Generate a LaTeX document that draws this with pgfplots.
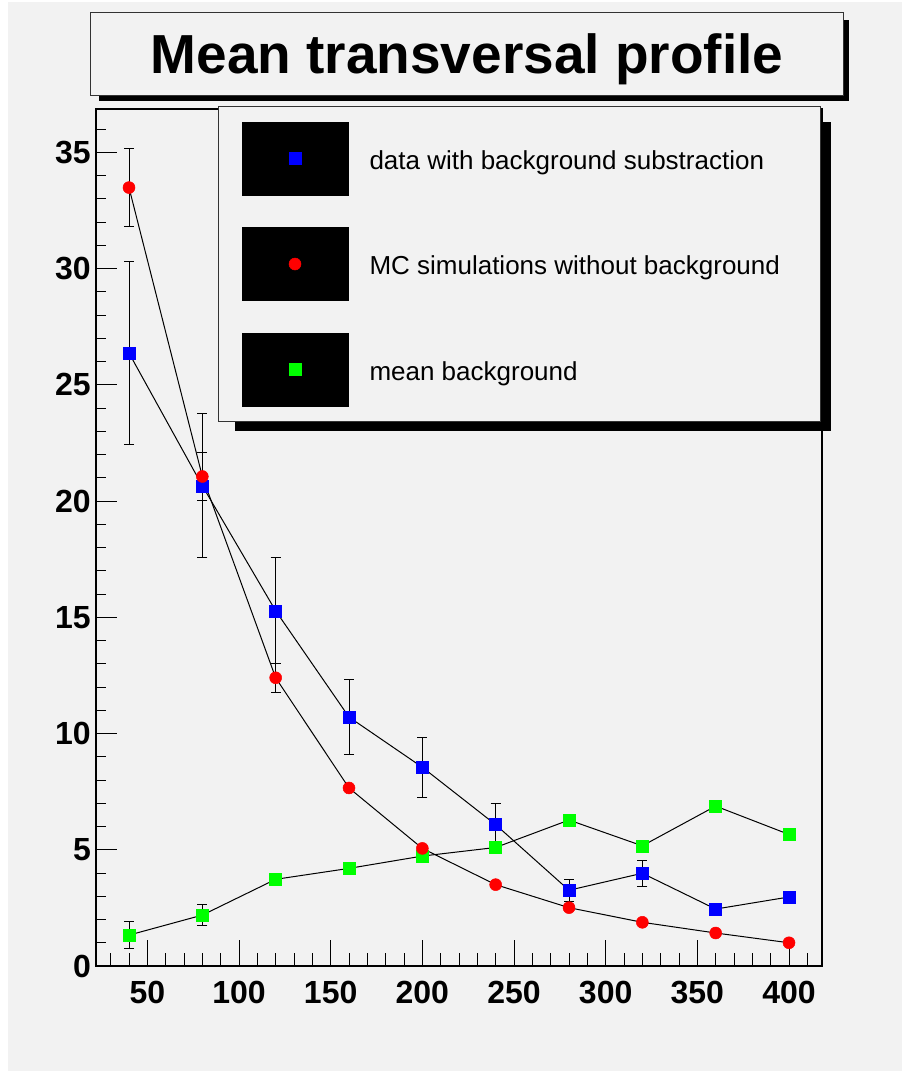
\documentclass[border=0pt]{standalone}
\usepackage{fontspec}
\setmainfont{Liberation Sans}
\usepackage{pgfplots}
\pgfplotsset{compat=1.18}
\definecolor{bg}{HTML}{F2F2F2}
\definecolor{rootblue}{RGB}{0,0,255}
\definecolor{rootred}{RGB}{255,0,0}
\definecolor{rootgreen}{RGB}{0,255,0}
\pgfplotsset{
  common/.style={
    at={(96pt,-966pt)}, anchor=south west, scale only axis,
    width=726pt, height=857pt,
    xmin=22, xmax=418, ymin=0, ymax=36.87,
    axis line style={line width=1.6pt, black},
    tick align=inside,
    tick pos=left,
    major tick style={line width=1pt, black},
    minor tick style={line width=1pt, black},
    tick label style={font=\fontsize{32}{32}\selectfont\bfseries},
    /pgf/number format/assume math mode=true,
    /pgf/number format/1000 sep={},
    xticklabel style={inner sep=0pt, anchor=north, yshift=-15pt},
    yticklabel style={inner sep=0pt, anchor=east, xshift=-5pt},
  },
  bluestyle/.style={black, line width=1pt, mark=square*, mark size=6pt,
    mark options={draw=rootblue, fill=rootblue, line width=0.5pt, solid}},
  redstyle/.style={black, line width=1pt, mark=*, mark size=6pt,
    mark options={draw=rootred, fill=rootred, line width=0.5pt, solid}},
  greenstyle/.style={black, line width=1pt, mark=square*, mark size=6pt,
    mark options={draw=rootgreen, fill=rootgreen, line width=0.5pt, solid}},
  errstyle/.style={forget plot, black, draw opacity=0, mark=*, mark size=0pt,
    error bars/.cd, y dir=both, y explicit,
    error bar style={draw=black, draw opacity=1, line width=1pt, solid},
    error mark options={rotate=90, draw=black, draw opacity=1, line width=1pt, mark size=5pt, solid}},
}
\begin{document}
\begin{tikzpicture}
\useasboundingbox (0pt,0pt) rectangle (902pt,-1071pt);
\fill[white] (0pt,0pt) rectangle (902pt,-1071pt);
\fill[bg] (8pt,-2pt) rectangle (902pt,-1071pt);
% title box
\fill[black] (99pt,-20pt) rectangle (848.5pt,-100.5pt);
\filldraw[fill=bg, draw=black!80, line width=1pt] (90pt,-12pt) rectangle (843.3pt,-95.7pt);
\node[anchor=base, inner sep=0pt, font=\fontsize{55}{55}\selectfont\bfseries] at (467pt,-73pt) {Mean transversal profile};
% legend shadow
\fill[black] (234.7pt,-121.7pt) rectangle (830.7pt,-430.5pt);

% axis with y ticks
\begin{axis}[common,
  ytick={0,5,...,35}, minor ytick={1,...,36}, xtick=\empty,
  major tick length=21pt, minor tick length=10pt]
\end{axis}

% axis with x ticks, data and legend
\begin{axis}[common,
  xtick={50,100,...,400}, minor xtick={30,40,...,410}, ytick=\empty,
  major tick length=26pt, minor tick length=13pt,
  legend style={
    at={(0.16804,1.0035)}, anchor=north west,
    draw=black!80, line width=1pt, fill=bg,
    inner xsep=23pt, inner ysep=15pt,
    row sep=31.5pt, column sep=21pt,
    nodes={inner sep=0pt},
    font=\fontsize{26}{26}\selectfont,
  },
  legend cell align=left,
  legend image code/.code={
    \fill[black] (0pt,-34.5pt) rectangle (106pt,38.5pt);
    \draw[#1, mark repeat=2, mark phase=2] plot coordinates {(0pt,2pt) (53pt,2pt) (106pt,2pt)};
  },
]
% error bars (drawn first, under the markers)
\addplot[errstyle] coordinates {
  (40,26.37) +- (0,3.92)
  (80,20.66) +- (0,3.10)
  (120,15.28) +- (0,2.28)
  (160,10.71) +- (0,1.60)
  (200,8.55) +- (0,1.28)
  (240,6.08) +- (0,0.90)
  (280,3.26) +- (0,0.48)
  (320,3.99) +- (0,0.57)
};
\addplot[errstyle] coordinates {
  (40,33.49) +- (0,1.67)
  (80,21.06) +- (0,1.05)
  (120,12.40) +- (0,0.62)
};
\addplot[errstyle] coordinates {
  (40,1.33) +- (0,0.57)
  (80,2.19) +- (0,0.46)
};
% data with background substraction
\addplot[bluestyle, forget plot] coordinates {
  (40,26.37) (80,20.66) (120,15.28) (160,10.71) (200,8.55)
  (240,6.08) (280,3.26) (320,3.99) (360,2.45) (400,2.97)
};
% mean background
\addplot[greenstyle, forget plot] coordinates {
  (40,1.33) (80,2.19) (120,3.73) (160,4.20) (200,4.73)
  (240,5.10) (280,6.28) (320,5.17) (360,6.88) (400,5.66)
};
% MC simulations without background
\addplot[redstyle, forget plot] coordinates {
  (40,33.49) (80,21.06) (120,12.40) (160,7.66) (200,5.06)
  (240,3.50) (280,2.51) (320,1.88) (360,1.42) (400,1.00)
};
\addlegendimage{bluestyle}
\addlegendentry{\makebox[428pt][l]{data with background substraction}}
\addlegendimage{redstyle}
\addlegendentry{MC simulations without background}
\addlegendimage{greenstyle}
\addlegendentry{mean background}
\end{axis}
\end{tikzpicture}
\end{document}
